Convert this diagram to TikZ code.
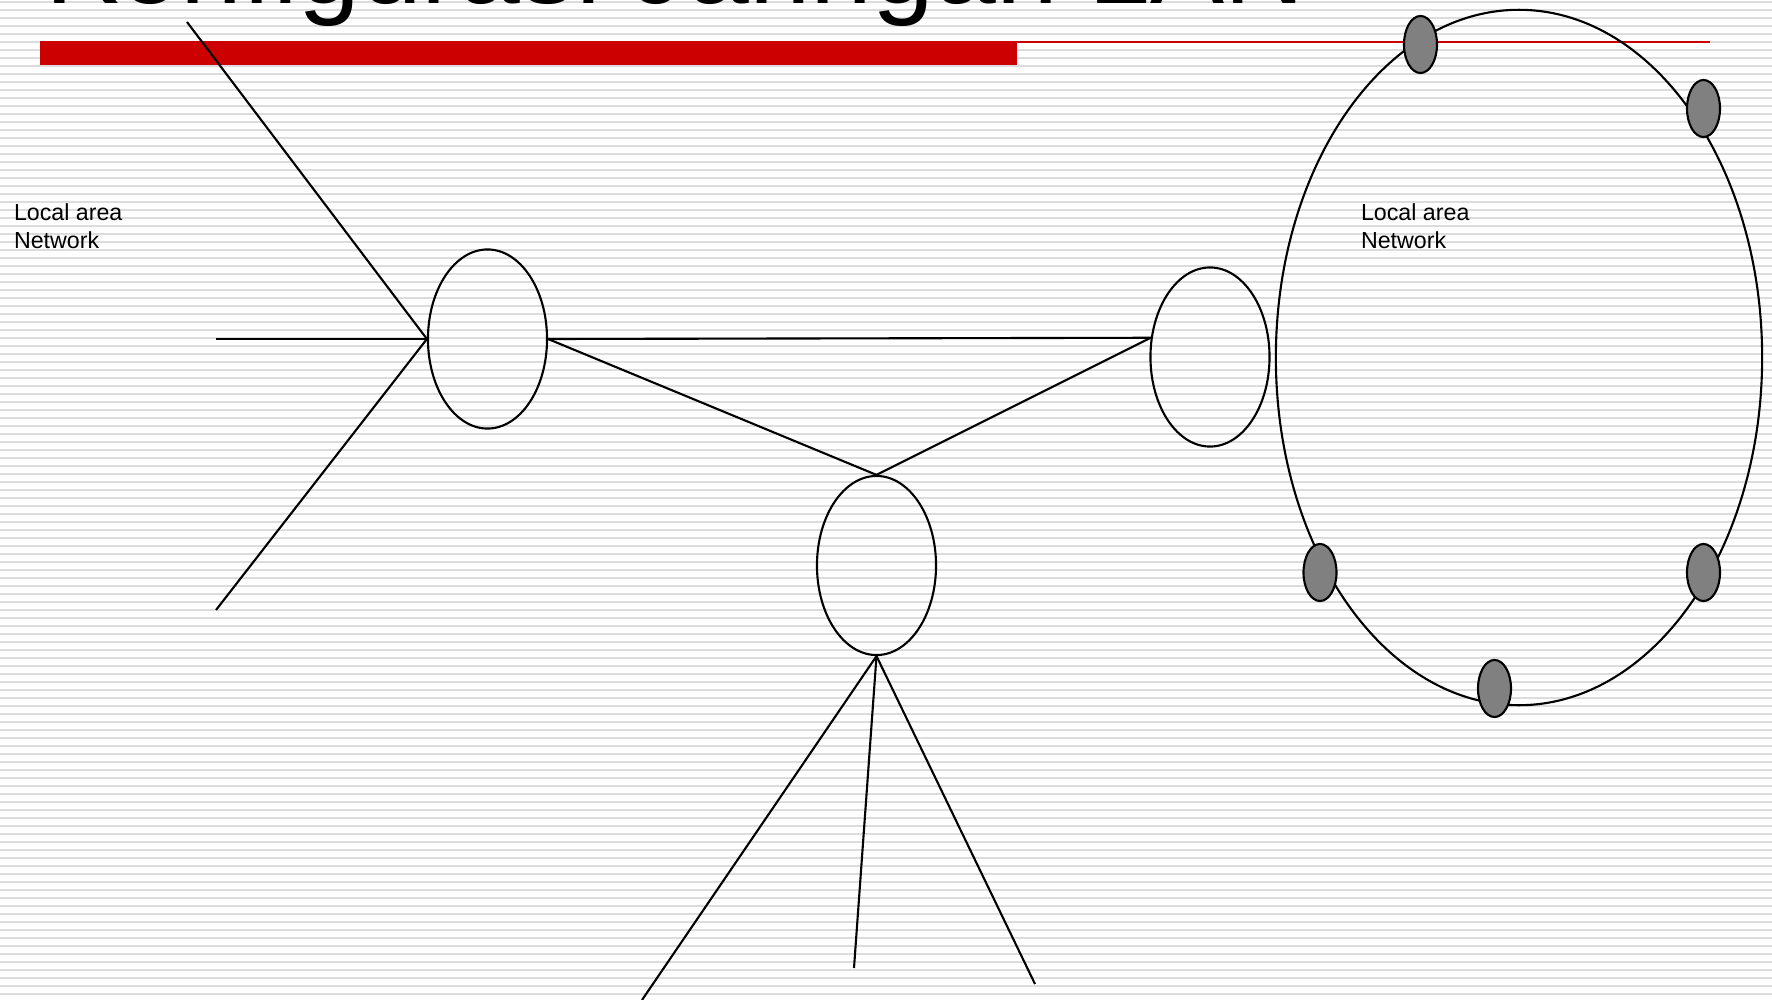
\documentclass[tikz,border=0pt]{standalone}
\usepackage{fontspec}
\setmainfont{Liberation Sans}
\usetikzlibrary{shapes.geometric}
\definecolor{stripegray}{HTML}{DCDCDC}
\definecolor{titlered}{HTML}{CC0000}
\definecolor{stationgray}{HTML}{808080}

\begin{document}
\begin{tikzpicture}[x=0.01cm,y=-0.01cm,line width=0.6pt,
  hub/.style={draw,ellipse,inner sep=0pt,minimum width=1.19cm,minimum height=1.79cm},
  station/.style={draw,ellipse,fill=stationgray,inner sep=0pt,
    minimum width=0.33cm,minimum height=0.57cm},
  lanlabel/.style={anchor=base west,align=left,inner sep=0pt,
    font=\fontsize{6.6pt}{7.9pt}\selectfont}]
  \useasboundingbox (0,0) rectangle (1772,1000);
  \fill[white] (0,0) rectangle (1772,1000);
  \foreach \k in {0,...,124}
    {\fill[stripegray] (0,{8*\k+1}) rectangle (1772,{8*\k+3});}
  % title and rule
  \node[anchor=base west,inner sep=0pt,font=\fontsize{31.6pt}{36pt}\selectfont]
    (title) at (44,3) {Konfigurasi Jaringan LAN};
  \fill[titlered] (40,41) rectangle (1017,65);
  \fill[titlered] (1017,41) rectangle (1710,43);
  % labels
  \node[lanlabel] (lanTxtL) at (13,248) {Local area\\Network};
  \node[lanlabel] (lanTxtR) at (1360,248) {Local area\\Network};
  % hubs
  \node[hub] (hubL) at (487.5,339) {};
  \node[hub] (hubR) at (1210,357) {};
  \node[hub] (hubB) at (876.5,565.5) {};
  \coordinate (lanA) at (187,22);
  \coordinate (lanB) at (216,339);
  \coordinate (lanC) at (216,610);
  \coordinate (dropA) at (642,1000);
  \coordinate (dropB) at (854,968);
  \coordinate (dropC) at (1035,984);
  \draw (lanA) -- (hubL.west) -- (lanC);
  \draw (lanB) -- (hubL.west);
  \draw (hubL.east) -- (hubR.162);
  \draw (hubL.east) -- (hubB.north) -- (hubR.162);
  \draw (dropA) -- (hubB.south) -- (dropC);
  \draw (dropB) -- (hubB.south);
  % ring
  \node[draw,ellipse,inner sep=0pt,minimum width=4.86cm,minimum height=6.95cm]
    (ring) at (1519,357.5) {};
  \foreach \x/\y [count=\i] in {1420.5/44.5,1703.5/108.5,1703.5/572.5,
      1494.5/688.5,1320/572.5}
    {\node[station] (st\i) at (\x,\y) {};}
\end{tikzpicture}
\end{document}
